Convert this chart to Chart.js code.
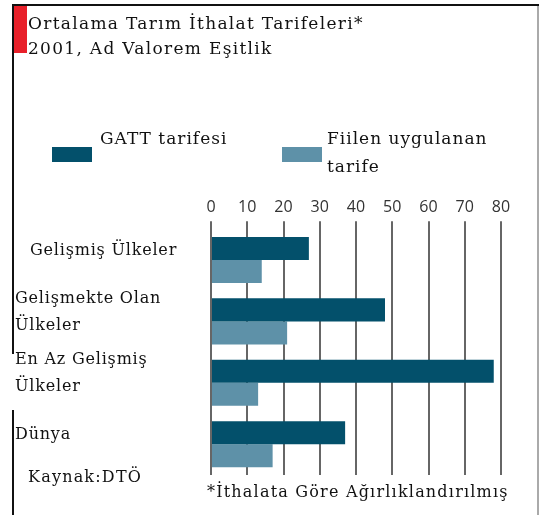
<!DOCTYPE html>
<html>
<head>
<meta charset="utf-8">
<script src="https://cdn.jsdelivr.net/npm/chart.js@4"></script>
<style>
  html, body { margin: 0; padding: 0; background: #fff; }
  #wrap { width: 539px; height: 515px; position: relative; }
</style>
</head>
<body>
<div id="wrap"><canvas id="tarife"></canvas></div>
<script>
var categories = [
  ["Gelişmiş Ülkeler"],
  ["Gelişmekte Olan", "Ülkeler"],
  ["En Az Gelişmiş", "Ülkeler"],
  ["Dünya"]
];
var gattValues = [27, 48, 78, 37];
var fiilenValues = [14, 21, 13, 17];
var seriesNames = ["GATT tarifesi", "Fiilen uygulanan tarife"];
var titleLines = ["Ortalama Tarım İthalat Tarifeleri*", "2001, Ad Valorem Eşitlik"];
var sourceNote = "Kaynak:DTÖ";
var footNote = "*İthalata Göre Ağırlıklandırılmış";

var dark = "#03506b";
var light = "#5e91a8";
var serif = "'DejaVu Serif', serif";

function textStyle(c, size, gap) {
  c.font = size + "px " + serif;
  c.letterSpacing = gap + "px";
}

// frame, red marker, title, legend, category names and notes
var decor = {
  id: "decor",
  beforeDraw: function(chart) {
    var c = chart.ctx;
    c.save();
    c.fillStyle = "#fff";
    c.fillRect(0, 0, chart.width, chart.height);
    c.fillStyle = "#111";
    c.fillRect(12, 4, 527, 2);
    c.fillRect(12, 4, 2, 350);
    c.fillRect(12, 410, 2, 105);
    c.fillStyle = "#aaa";
    c.fillRect(537, 6, 2, 509);
    c.fillStyle = "#e8202a";
    c.fillRect(14, 6, 13, 47);
    c.restore();
  },
  afterDraw: function(chart) {
    var c = chart.ctx;
    c.save();
    c.fillStyle = "#111";
    c.textBaseline = "middle";
    textStyle(c, 17, 1.3);
    c.fillText(titleLines[0], 28, 25);
    c.fillText(titleLines[1], 28, 50);

    var ds = chart.data.datasets;
    c.fillStyle = ds[0].backgroundColor;
    c.fillRect(52, 147, 40, 15);
    c.fillStyle = ds[1].backgroundColor;
    c.fillRect(282, 147, 40, 15);
    c.fillStyle = "#111";
    textStyle(c, 17, 1);
    c.fillText(ds[0].label, 100, 140);
    var words = ds[1].label.split(" ");
    c.fillText(words.slice(0, 2).join(" "), 327, 140);
    c.fillText(words.slice(2).join(" "), 327, 168);

    // category names, left aligned, a little above each bar pair
    var yScale = chart.scales.y;
    textStyle(c, 16, 0.8);
    chart.data.labels.forEach(function(lines, i) {
      var mid = yScale.getPixelForValue(i) - 9;
      var top = mid - (lines.length - 1) * 13.5;
      lines.forEach(function(t, k) {
        c.fillText(t, i === 0 ? 30 : 15, top + k * 27);
      });
    });

    textStyle(c, 16, 1.2);
    c.fillText(sourceNote, 28, 478);
    c.fillText(footNote, 207, 493);
    c.restore();
  }
};

var ctx = document.getElementById("tarife").getContext("2d");
var chart = new Chart(ctx, {
  type: "bar",
  data: {
    labels: categories,
    datasets: [
      { label: seriesNames[0], data: gattValues, backgroundColor: dark },
      { label: seriesNames[1], data: fiilenValues, backgroundColor: light }
    ]
  },
  options: {
    indexAxis: "y",
    responsive: true,
    maintainAspectRatio: false,
    animation: false,
    layout: { padding: { top: 194, left: 11, right: 38, bottom: 40 } },
    datasets: { bar: { categoryPercentage: 0.75, barPercentage: 1.0 } },
    plugins: {
      legend: { display: false },
      title: { display: false },
      tooltip: { enabled: false }
    },
    scales: {
      x: {
        position: "top",
        min: 0,
        max: 80,
        ticks: {
          stepSize: 10,
          padding: 4,
          color: "#333",
          font: { family: "'Open Sans', sans-serif", size: 16 }
        },
        grid: { color: "#666", lineWidth: 2, tickLength: 8 },
        border: { display: false }
      },
      y: {
        afterFit: function(scale) { scale.width = 200; },
        ticks: { display: false },
        grid: { display: false },
        border: { display: false }
      }
    }
  },
  plugins: [decor]
});
</script>
</body>
</html>
